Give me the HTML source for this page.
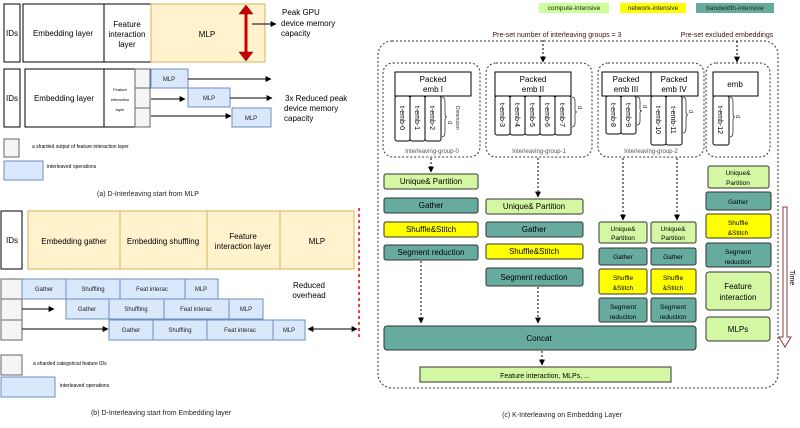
<!DOCTYPE html>
<html><head><meta charset="utf-8"><style>
html,body{margin:0;padding:0;background:#fff;}
svg{display:block;font-family:"Liberation Sans",sans-serif;}
.t{font-size:8px;fill:#000;text-anchor:middle;}
.s{font-size:6px;fill:#222;text-anchor:middle;}
.g{fill:#d4f7a4;stroke:#333;stroke-width:1;}
.tl{fill:#67ab9f;stroke:#333;stroke-width:1;}
.y{fill:#ffff00;stroke:#333;stroke-width:1;}
.w{fill:#fff;stroke:#000;stroke-width:1;}
.or{fill:#fff2cc;stroke:#d6b656;stroke-width:1;}
.bl{fill:#dae8fc;stroke:#6c8ebf;stroke-width:1;}
.gr{fill:#f5f5f5;stroke:#666;stroke-width:1;}
.dash{fill:none;stroke:#333;stroke-width:1;stroke-dasharray:2,2;}
.ln{stroke:#000;stroke-width:1;fill:none;}
</style></head><body>
<svg width="800" height="428" viewBox="0 0 800 428">
<defs>
<marker id="a" viewBox="0 0 10 10" refX="9" refY="5" markerWidth="6" markerHeight="6" orient="auto"><path d="M0,0L10,5L0,10z" fill="#000"/></marker>
<marker id="as" viewBox="0 0 10 10" refX="1" refY="5" markerWidth="6" markerHeight="6" orient="auto"><path d="M10,0L0,5L10,10z" fill="#000"/></marker>
</defs>
<!-- Panel a -->
<rect class="w" x="4" y="4" width="16" height="58"/><text class="t" x="12" y="36">IDs</text>
<rect class="w" x="23" y="4" width="81" height="58"/><text class="t" x="63" y="36">Embedding layer</text>
<rect class="w" x="104" y="4" width="47" height="58"/><text class="t" x="127" y="27">Feature</text><text class="t" x="127" y="37">interaction</text><text class="t" x="127" y="47">layer</text>
<rect class="or" x="151" y="4" width="114" height="58"/><text class="t" x="207" y="37">MLP</text>
<line x1="246" y1="10" x2="246" y2="56" stroke="#c00" stroke-width="3"/>
<path d="M239,14L246,5L253,14z M239,52L246,61L253,52z" fill="#c00" stroke="#600" stroke-width=".5"/>
<line class="ln" x1="252" y1="24" x2="276" y2="24" marker-end="url(#a)"/>
<text x="282" y="15" style="font-size:8px">Peak GPU</text><text x="281" y="26" style="font-size:8px">device memory</text><text x="281" y="36" style="font-size:8px">capacity</text>

<rect class="w" x="4" y="69" width="16" height="58"/><text class="t" x="12" y="101">IDs</text>
<rect class="w" x="25" y="69" width="79" height="58"/><text class="t" x="64" y="101">Embedding layer</text>
<rect class="w" x="104" y="69" width="31" height="58"/><text style="font-size:4px;text-anchor:middle" x="120" y="91">Feature</text><text style="font-size:4px;text-anchor:middle" x="120" y="101">interaction</text><text style="font-size:4px;text-anchor:middle" x="120" y="111">layer</text>
<rect class="gr" x="135" y="69" width="15" height="19"/><rect class="gr" x="135" y="88" width="15" height="20"/><rect class="gr" x="135" y="108" width="15" height="19"/>
<rect class="bl" x="151" y="69" width="37" height="19"/><text class="s" x="169" y="81">MLP</text>
<rect class="bl" x="188" y="88" width="42" height="19"/><text class="s" x="209" y="100">MLP</text>
<rect class="bl" x="232" y="108" width="39" height="19"/><text class="s" x="251" y="120">MLP</text>
<line class="ln" x1="188" y1="79" x2="271" y2="79" marker-end="url(#a)"/>
<line class="ln" x1="151" y1="99" x2="185" y2="99" marker-end="url(#a)"/>
<line class="ln" x1="230" y1="98" x2="272" y2="98" marker-end="url(#a)"/>
<line class="ln" x1="151" y1="116" x2="231" y2="116" marker-end="url(#a)"/>
<text x="285" y="101" style="font-size:8px">3x Reduced peak</text><text x="284" y="111" style="font-size:8px">device memory</text><text x="284" y="121" style="font-size:8px">capacity</text>
<rect class="gr" x="4" y="139" width="15" height="18"/><text x="32" y="148" style="font-size:5px">a sharded output of feature interaction layer</text>
<rect class="bl" x="4" y="161" width="39" height="19"/><text x="47" y="168" style="font-size:5px">interleaved operations</text>
<text class="s" x="148" y="196" style="font-size:7px">(a) D-Interleaving start from MLP</text>

<!-- Panel b -->
<rect class="w" x="1" y="211" width="21" height="58"/><text class="t" x="12" y="243">IDs</text>
<rect class="or" x="28" y="211" width="92" height="58"/><text class="t" x="74" y="244">Embedding gather</text>
<rect class="or" x="120" y="211" width="87" height="58"/><text class="t" x="163" y="244">Embedding shuffling</text>
<rect class="or" x="207" y="211" width="73" height="58"/><text class="t" x="243" y="239">Feature</text><text class="t" x="243" y="249">interaction layer</text>
<rect class="or" x="280" y="211" width="74" height="58"/><text class="t" x="317" y="244">MLP</text>
<line x1="359" y1="208" x2="359" y2="340" stroke="#e00" stroke-width="1.5" stroke-dasharray="3,3"/>
<rect class="gr" x="1" y="279" width="21" height="20"/><rect class="gr" x="1" y="299" width="21" height="21"/><rect class="gr" x="1" y="320" width="21" height="20"/>
<rect class="bl" x="22" y="279" width="44" height="20"/><text class="s" x="44" y="291">Gather</text>
<rect class="bl" x="66" y="279" width="54" height="20"/><text class="s" x="93" y="291">Shuffling</text>
<rect class="bl" x="120" y="279" width="65" height="20"/><text class="s" x="152" y="291">Feat interac</text>
<rect class="bl" x="185" y="279" width="33" height="20"/><text class="s" x="201" y="291">MLP</text>
<rect class="bl" x="66" y="299" width="43" height="20"/><text class="s" x="87" y="311">Gather</text>
<rect class="bl" x="109" y="299" width="55" height="20"/><text class="s" x="136" y="311">Shuffling</text>
<rect class="bl" x="164" y="299" width="65" height="20"/><text class="s" x="196" y="311">Feat interac</text>
<rect class="bl" x="229" y="299" width="34" height="20"/><text class="s" x="246" y="311">MLP</text>
<rect class="bl" x="109" y="320" width="44" height="20"/><text class="s" x="131" y="332">Gather</text>
<rect class="bl" x="153" y="320" width="54" height="20"/><text class="s" x="180" y="332">Shuffling</text>
<rect class="bl" x="207" y="320" width="66" height="20"/><text class="s" x="240" y="332">Feat interac</text>
<rect class="bl" x="273" y="320" width="32" height="20"/><text class="s" x="289" y="332">MLP</text>
<line class="ln" x1="22" y1="309" x2="54" y2="309" marker-end="url(#a)"/>
<line class="ln" x1="22" y1="329" x2="108" y2="329" marker-end="url(#a)"/>
<line class="ln" x1="308" y1="329" x2="357" y2="329" marker-start="url(#as)" marker-end="url(#a)"/>
<text class="t" x="309" y="288">Reduced</text><text class="t" x="309" y="298">overhead</text>
<rect class="gr" x="1" y="355" width="21" height="20"/><text x="33" y="365" style="font-size:5px">a sharded categorical feature IDs</text>
<rect class="bl" x="1" y="377" width="54" height="20"/><text x="60" y="387" style="font-size:5px">interleaved operations</text>
<text class="s" x="161" y="415" style="font-size:7px">(b) D-Interleaving start from Embedding layer</text>

<!-- Panel c -->
<rect x="539" y="3" width="70" height="10" fill="#ccff99"/><text class="s" x="574" y="10" style="font-size:6.5px">compute-intensive</text>
<rect x="620" y="3" width="66" height="10" fill="#ffff00"/><text class="s" x="653" y="10" style="font-size:6.5px">network-intensive</text>
<rect x="696" y="3" width="78" height="10" fill="#67ab9f"/><text class="s" x="735" y="10" style="font-size:6.5px">bandwidth-intensive</text>
<text class="s" x="557" y="37" style="font-size:7px;fill:#401010">Pre-set number of interleaving groups = 3</text>
<text class="s" x="727" y="37" style="font-size:7px;fill:#401010">Pre-set excluded embeddings</text>
<rect class="dash" x="378" y="41" width="400" height="347" rx="14"/>
<rect class="dash" x="383" y="63" width="97" height="94" rx="10"/>
<rect class="dash" x="486" y="63" width="106" height="94" rx="10"/>
<rect class="dash" x="598" y="63" width="106" height="94" rx="10"/>
<rect class="dash" x="706" y="63" width="64" height="94" rx="10"/>
<rect class="w" x="395" y="72" width="76" height="24"/><text class="t" x="433" y="82">Packed</text><text class="t" x="433" y="92">emb I</text>
<rect class="w" x="495" y="72" width="76" height="24"/><text class="t" x="533" y="82">Packed</text><text class="t" x="533" y="92">emb II</text>
<rect class="w" x="602" y="72" width="49" height="24"/><text class="t" x="626" y="82">Packed</text><text class="t" x="626" y="92">emb III</text>
<rect class="w" x="651" y="72" width="47" height="24"/><text class="t" x="674" y="82">Packed</text><text class="t" x="674" y="92">emb IV</text>
<rect class="w" x="713" y="72" width="45" height="24"/><text class="t" x="735" y="87">emb</text>
<g style="font-size:7px">
<rect class="w" x="395" y="96" width="15" height="45" rx="2"/><text transform="translate(400,118) rotate(90)" text-anchor="middle">t-emb-0</text>
<rect class="w" x="410" y="96" width="15" height="45" rx="2"/><text transform="translate(415,118) rotate(90)" text-anchor="middle">t-emb-1</text>
<rect class="w" x="425" y="96" width="16" height="45" rx="2"/><text transform="translate(430,118) rotate(90)" text-anchor="middle">t-emb-2</text>
<rect class="w" x="495" y="96" width="15" height="39" rx="2"/><text transform="translate(500,115) rotate(90)" text-anchor="middle">t-emb-3</text>
<rect class="w" x="510" y="96" width="15" height="39" rx="2"/><text transform="translate(515,115) rotate(90)" text-anchor="middle">t-emb-4</text>
<rect class="w" x="525" y="96" width="15" height="39" rx="2"/><text transform="translate(530,115) rotate(90)" text-anchor="middle">t-emb-5</text>
<rect class="w" x="540" y="96" width="15" height="39" rx="2"/><text transform="translate(545,115) rotate(90)" text-anchor="middle">t-emb-6</text>
<rect class="w" x="555" y="96" width="16" height="39" rx="2"/><text transform="translate(560,115) rotate(90)" text-anchor="middle">t-emb-7</text>
<rect class="w" x="606" y="96" width="15" height="38" rx="2"/><text transform="translate(611,115) rotate(90)" text-anchor="middle">t-emb-8</text>
<rect class="w" x="621" y="96" width="15" height="38" rx="2"/><text transform="translate(626,115) rotate(90)" text-anchor="middle">t-emb-9</text>
<rect class="w" x="651" y="96" width="15" height="49" rx="2"/><text transform="translate(656,120) rotate(90)" text-anchor="middle">t-emb-10</text>
<rect class="w" x="666" y="96" width="16" height="49" rx="2"/><text transform="translate(671,120) rotate(90)" text-anchor="middle">t-emb-11</text>
<rect class="w" x="713" y="96" width="16" height="49" rx="2"/><text transform="translate(718,120) rotate(90)" text-anchor="middle">t-emb-12</text>
</g>
<g fill="none" stroke="#333" stroke-width=".8">
<path d="M442,97 q3,0 3,5 v12 q0,3 2,3 q-2,0 -2,3 v12 q0,5 -3,5"/>
<path d="M572,97 q3,0 3,4 v9 q0,2 2,2 q-2,0 -2,2 v9 q0,4 -3,4"/>
<path d="M637,97 q3,0 3,4 v8 q0,2 2,2 q-2,0 -2,2 v8 q0,4 -3,4"/>
<path d="M683,97 q3,0 3,5 v10 q0,3 2,3 q-2,0 -2,3 v10 q0,5 -3,5"/>
<path d="M730,97 q3,0 3,5 v12 q0,3 2,3 q-2,0 -2,3 v12 q0,5 -3,5"/>
</g>
<g style="font-size:6px;fill:#333">
<text transform="translate(448,121) rotate(90)">d</text><text transform="translate(578,106) rotate(90)">d</text><text transform="translate(643,105) rotate(90)">d</text><text transform="translate(689,110) rotate(90)">d</text><text transform="translate(736,115) rotate(90)">d</text>
<text transform="translate(456,106) rotate(90)" style="font-size:5px">Dimension</text>
</g>
<g style="font-size:6px;fill:#555;text-anchor:middle">
<text x="432" y="153">Interleaving-group-0</text><text x="539" y="153">Interleaving-group-1</text><text x="651" y="153">Interleaving-group-2</text>
</g>
<!-- g0 -->
<rect class="g" x="384" y="174" width="94" height="15" rx="2"/><text class="t" x="431" y="184">Unique&amp; Partition</text>
<rect class="tl" x="384" y="198" width="94" height="15" rx="2"/><text class="t" x="431" y="208">Gather</text>
<rect class="y" x="384" y="222" width="94" height="15" rx="2"/><text class="t" x="431" y="232">Shuffle&amp;Stitch</text>
<rect class="tl" x="384" y="245" width="94" height="15" rx="2"/><text class="t" x="431" y="255">Segment reduction</text>
<!-- g1 -->
<rect class="g" x="486" y="199" width="97" height="15" rx="2"/><text class="t" x="534" y="209">Unique&amp; Partition</text>
<rect class="tl" x="486" y="222" width="97" height="15" rx="2"/><text class="t" x="534" y="232">Gather</text>
<rect class="y" x="486" y="244" width="97" height="15" rx="2"/><text class="t" x="534" y="254">Shuffle&amp;Stitch</text>
<rect class="tl" x="486" y="268" width="97" height="18" rx="2"/><text class="t" x="534" y="280">Segment reduction</text>
<!-- g2 -->
<g style="font-size:6.5px;text-anchor:middle">
<rect class="g" x="599" y="222" width="48" height="21" rx="2"/><text x="623" y="231">Unique&amp;</text><text x="623" y="240">Partition</text>
<rect class="g" x="651" y="222" width="45" height="21" rx="2"/><text x="673" y="231">Unique&amp;</text><text x="673" y="240">Partition</text>
<rect class="tl" x="599" y="248" width="48" height="17" rx="2"/><text x="623" y="259">Gather</text>
<rect class="tl" x="651" y="248" width="45" height="17" rx="2"/><text x="673" y="259">Gather</text>
<rect class="y" x="599" y="269" width="48" height="25" rx="2"/><text x="623" y="280">Shuffle</text><text x="623" y="290">&amp;Stitch</text>
<rect class="y" x="651" y="269" width="45" height="25" rx="2"/><text x="673" y="280">Shuffle</text><text x="673" y="290">&amp;Stitch</text>
<rect class="tl" x="599" y="298" width="48" height="24" rx="2"/><text x="623" y="309">Segment</text><text x="623" y="319">reduction</text>
<rect class="tl" x="651" y="298" width="45" height="24" rx="2"/><text x="673" y="309">Segment</text><text x="673" y="319">reduction</text>
<!-- g3 -->
<rect class="g" x="708" y="166" width="61" height="22" rx="2"/><text x="738" y="175">Unique&amp;</text><text x="738" y="185">Partition</text>
<rect class="tl" x="706" y="192" width="65" height="18" rx="2"/><text x="738" y="204">Gather</text>
<rect class="y" x="706" y="214" width="65" height="24" rx="2"/><text x="738" y="225">Shuffle</text><text x="738" y="235">&amp;Stitch</text>
<rect class="tl" x="706" y="243" width="65" height="24" rx="2"/><text x="738" y="254">Segment</text><text x="738" y="264">reduction</text>
</g>
<rect class="g" x="706" y="272" width="65" height="38" rx="3"/><text class="t" x="738" y="289">Feature</text><text class="t" x="738" y="300">interaction</text>
<rect class="g" x="706" y="317" width="64" height="24" rx="3"/><text class="t" x="738" y="332">MLPs</text>
<rect class="tl" x="384" y="326" width="312" height="24" rx="3"/><text class="t" x="539" y="341">Concat</text>
<rect class="g" x="420" y="367" width="251" height="15"/><text class="t" x="545" y="378" style="font-size:7px">Feature interaction, MLPs, ...</text>
<!-- dashed arrows -->
<g stroke="#000" stroke-width="1" stroke-dasharray="2,2" fill="none">
<line x1="431" y1="158" x2="431" y2="172" marker-end="url(#a)"/>
<line x1="543" y1="40" x2="543" y2="62" marker-end="url(#a)"/>
<line x1="538" y1="158" x2="538" y2="197" marker-end="url(#a)"/>
<line x1="623" y1="158" x2="623" y2="220" marker-end="url(#a)"/>
<line x1="677" y1="158" x2="677" y2="220" marker-end="url(#a)"/>
<line x1="737" y1="41" x2="737" y2="62" marker-end="url(#a)"/>
<line x1="421" y1="261" x2="421" y2="323" marker-end="url(#a)"/>
<line x1="538" y1="287" x2="538" y2="323" marker-end="url(#a)"/>
<line x1="542" y1="351" x2="542" y2="365" marker-end="url(#a)"/>
</g>
<path d="M783,207 h4 v130 h4 l-6,10 l-6,-10 h4 z" fill="#fff" stroke="#8b3a3a" stroke-width="1"/>
<text transform="translate(790,270) rotate(90)" style="font-size:7px">Time</text>
<text class="s" x="562" y="417" style="font-size:7px">(c) K-Interleaving on Embedding Layer</text>
</svg>
</body></html>
